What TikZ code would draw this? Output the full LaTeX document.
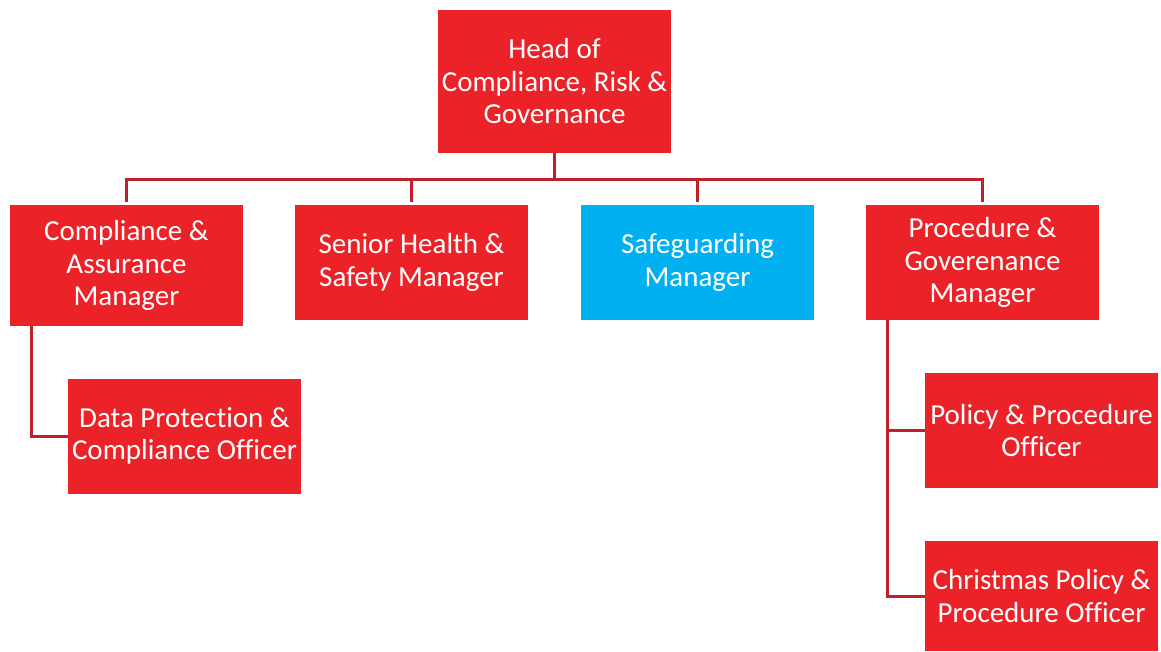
\documentclass[tikz,border=0pt]{standalone}
\usepackage{fontspec}
\setmainfont{Carlito}[RawFeature=-liga]
\usetikzlibrary{positioning}
\definecolor{boxred}{HTML}{EC2229}
\definecolor{boxblue}{HTML}{00B0F0}
\definecolor{linkred}{HTML}{C0202A}
\tikzset{
	post/.style={
		fill=boxred, text=white, align=center, inner sep=0pt,
		minimum width=233pt, minimum height=115pt,
		font=\fontsize{29}{32.5}\selectfont
	},
	post blue/.style={post, fill=boxblue},
	link/.style={draw=linkred, line width=3pt}
}

\begin{document}
\begin{tikzpicture}[x=1pt, y=-1pt]
\useasboundingbox (0,0) rectangle (1161,651);

% top of the chart
\node[post, minimum height=143pt] (head) at (554.5,81.5) {Head of\\Compliance, Risk \&\\Governance};

% managers
\node[post, minimum height=121pt] (cam) at (126.5,265.5) {Compliance \&\\Assurance\\Manager};
\node[post] (hsm) at (411.5,262.5) {Senior Health \&\\Safety Manager};
\node[post blue] (sgm) at (697.5,262.5) {Safeguarding\\Manager};
\node[post] (pgm) at (982.5,262.5) {Procedure \&\\Goverenance\\Manager};

% officers
\node[post] (dpo) at (184.5,436) {Data Protection \&\\Compliance Officer};
\node[post] (ppo) at (1041.5,430.5) {Policy \& Procedure\\Officer};
\node[post, minimum height=110pt] (cpo) at (1041.5,596) {Christmas Policy \&\\Procedure Officer};

\coordinate (bus) at (0,179);
\draw[link] (head.south) -- (head.south |- bus);
\draw[link] ([yshift=3pt]cam.north) -- (cam.north |- bus) -- (pgm.north |- bus) -- ([yshift=3pt]pgm.north);
\foreach \n in {hsm, sgm}
	\draw[link] (\n.north |- bus) -- ([yshift=3pt]\n.north);

\draw[link] ([xshift=22pt]cam.south west) |- (dpo.west);
\draw[link] ([xshift=22pt]pgm.south west) |- (ppo.west);
\draw[link] ([xshift=22pt]pgm.south west) |- (cpo.west);

\end{tikzpicture}
\end{document}
